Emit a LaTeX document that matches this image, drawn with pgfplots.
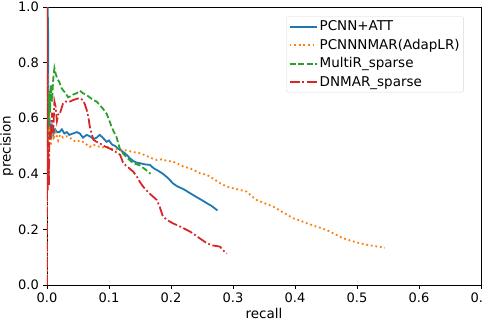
\documentclass[border=0pt]{standalone}
\usepackage{fontspec}
\setmainfont{DejaVu Sans}
\usepackage{pgfplots}
\pgfplotsset{compat=1.18}
\definecolor{c1}{HTML}{1F77B4}
\definecolor{c2}{HTML}{FF7F0E}
\definecolor{c3}{HTML}{2CA02C}
\definecolor{c4}{HTML}{D62728}
\begin{document}
\fontsize{13.5}{16}\selectfont
\begin{tikzpicture}
\begin{axis}[
  scale only axis, width=434pt, height=278pt,
  xmin=0, xmax=0.7, ymin=0, ymax=1.0,
  xtick={0,0.1,...,0.7}, ytick={0,0.2,...,1.0},
  /pgf/number format/assume math mode=true,
  /pgf/number format/.cd, fixed, fixed zerofill, precision=1, /pgfplots/.cd,
  tick align=outside, tick pos=left,
  major tick length=3.5pt,
  every tick/.style={black, line width=0.8pt},
  axis line style={line width=0.8pt},
  xlabel={recall}, ylabel={precision},
  ticklabel style={font=\fontsize{13}{16}\selectfont},
  label style={font=\fontsize{13.5}{16}\selectfont},
  xlabel style={at={(rel axis cs:0.5,-0.104)}, anchor=center},
  ylabel style={at={(rel axis cs:-0.0922,0.5)}, anchor=center},
  legend style={at={(rel axis cs:0.96,0.965)}, anchor=north east,
    draw=black!15, rounded corners=2pt, fill=white,
    font=\fontsize{13.5}{16}\selectfont, row sep=2.3pt,
    inner xsep=2pt, inner ysep=2pt, outer sep=0pt,
    nodes={inner xsep=2pt}},
  legend cell align=left,
  legend image code/.code={\draw[#1, line width=2.2pt] (0pt,0pt) -- (27pt,0pt);},
]
\coordinate (sw) at (rel axis cs:0,0);
\coordinate (ne) at (rel axis cs:1,1);
\addplot[c1, solid, line width=1.8pt] coordinates {
(0.001,1.0)(0.002,0.9)(0.002,0.62)(0.003,0.55)(0.004,0.60)(0.006,0.53)(0.008,0.57)(0.010,0.54)(0.013,0.56)(0.016,0.55)(0.020,0.55)(0.024,0.56)(0.028,0.545)(0.032,0.55)(0.036,0.54)(0.042,0.545)(0.048,0.55)(0.053,0.545)(0.058,0.53)(0.064,0.54)(0.069,0.535)(0.075,0.525)(0.080,0.53)(0.085,0.54)(0.090,0.53)(0.096,0.515)(0.100,0.52)(0.105,0.505)(0.110,0.50)(0.115,0.49)(0.120,0.483)(0.125,0.475)(0.130,0.465)(0.134,0.455)(0.140,0.445)(0.145,0.44)(0.150,0.438)(0.158,0.434)(0.166,0.432)(0.172,0.42)(0.180,0.41)(0.187,0.40)(0.195,0.385)(0.203,0.366)(0.210,0.355)(0.220,0.345)(0.231,0.33)(0.240,0.318)(0.250,0.305)(0.258,0.294)(0.265,0.285)(0.271,0.275)(0.275,0.268)
};
\addlegendentry{PCNN+ATT}
\addplot[c2, dash pattern=on 1.8pt off 2.8pt, line width=1.8pt] coordinates {
(0,0)(0,0.72)(0.001,0.76)(0.002,0.60)(0.003,0.52)(0.004,0.57)(0.006,0.50)(0.008,0.55)(0.011,0.53)(0.014,0.55)(0.018,0.52)(0.021,0.54)(0.026,0.53)(0.031,0.535)(0.037,0.53)(0.042,0.52)(0.048,0.515)(0.053,0.52)(0.058,0.515)(0.064,0.505)(0.069,0.497)(0.075,0.505)(0.080,0.50)(0.090,0.495)(0.096,0.497)(0.105,0.49)(0.115,0.488)(0.123,0.486)(0.132,0.482)(0.140,0.478)(0.150,0.474)(0.160,0.465)(0.170,0.455)(0.177,0.45)(0.185,0.452)(0.195,0.446)(0.203,0.444)(0.212,0.435)(0.220,0.426)(0.230,0.42)(0.240,0.41)(0.247,0.402)(0.258,0.396)(0.270,0.38)(0.280,0.365)(0.290,0.354)(0.300,0.348)(0.311,0.342)(0.322,0.336)(0.330,0.32)(0.338,0.306)(0.350,0.295)(0.365,0.282)(0.380,0.262)(0.397,0.24)(0.408,0.232)(0.419,0.222)(0.435,0.21)(0.451,0.198)(0.465,0.182)(0.478,0.168)(0.492,0.158)(0.505,0.15)(0.520,0.143)(0.534,0.138)(0.545,0.134)
};
\addlegendentry{PCNNNMAR(AdapLR)}
\addplot[c3, dash pattern=on 6pt off 2.6pt, line width=1.8pt] coordinates {
(0.001,0.50)(0.002,0.68)(0.003,0.58)(0.004,0.70)(0.005,0.62)(0.006,0.72)(0.008,0.66)(0.010,0.74)(0.012,0.78)(0.014,0.76)(0.017,0.74)(0.020,0.73)(0.023,0.71)(0.026,0.70)(0.030,0.69)(0.034,0.675)(0.037,0.678)(0.042,0.685)(0.048,0.69)(0.053,0.699)(0.058,0.69)(0.064,0.683)(0.070,0.673)(0.075,0.665)(0.080,0.66)(0.085,0.647)(0.090,0.635)(0.096,0.617)(0.100,0.595)(0.104,0.57)(0.108,0.55)(0.112,0.533)(0.115,0.51)(0.118,0.486)(0.123,0.472)(0.128,0.46)(0.134,0.448)(0.139,0.438)(0.145,0.434)(0.150,0.43)(0.156,0.42)(0.162,0.41)(0.167,0.40)
};
\addlegendentry{MultiR\_sparse}
\addplot[c4, dash pattern=on 10pt off 2.6pt on 1.8pt off 2.6pt, line width=1.8pt] coordinates {
(0,0)(0,1.0)(0.001,0.34)(0.002,0.50)(0.003,0.36)(0.004,0.55)(0.006,0.52)(0.008,0.62)(0.010,0.55)(0.012,0.66)(0.014,0.64)(0.016,0.59)(0.019,0.62)(0.021,0.618)(0.024,0.64)(0.026,0.654)(0.030,0.66)(0.035,0.658)(0.042,0.665)(0.048,0.67)(0.053,0.672)(0.058,0.665)(0.061,0.65)(0.064,0.63)(0.067,0.60)(0.069,0.57)(0.072,0.545)(0.075,0.522)(0.080,0.515)(0.085,0.51)(0.092,0.50)(0.102,0.49)(0.110,0.48)(0.118,0.468)(0.121,0.45)(0.123,0.438)(0.130,0.425)(0.139,0.408)(0.145,0.39)(0.150,0.37)(0.155,0.354)(0.165,0.33)(0.177,0.306)(0.182,0.28)(0.187,0.246)(0.195,0.232)(0.203,0.222)(0.215,0.21)(0.231,0.192)(0.245,0.17)(0.258,0.15)(0.268,0.142)(0.279,0.138)(0.283,0.128)(0.287,0.118)(0.290,0.113)
};
\addlegendentry{DNMAR\_sparse}
\end{axis}
\pgfresetboundingbox
\path ([shift={(-47pt,-37pt)}]sw) rectangle ([shift={(3pt,7pt)}]ne);
\end{tikzpicture}
\end{document}
